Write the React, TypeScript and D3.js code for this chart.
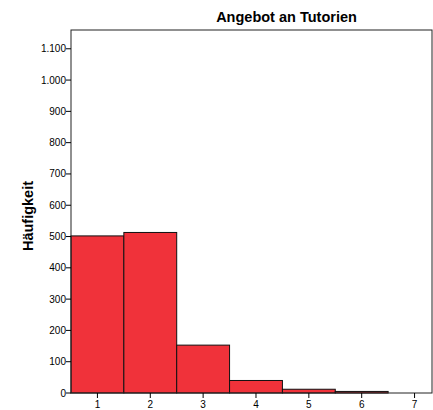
import React from 'react';
import * as d3 from 'd3';

const CATEGORIES = [1, 2, 3, 4, 5, 6, 7];
const COUNTS = [502, 513, 153, 40, 12, 5, 0];
const Y_TICKS = [0, 100, 200, 300, 400, 500, 600, 700, 800, 900, 1000, 1100];
const TITLE = 'Angebot an Tutorien';
const Y_LABEL = 'Häufigkeit';

const W = 433;
const H = 410;
const margin = { top: 30, right: 1, bottom: 17, left: 71 };

const fmt = (v: number) => v.toLocaleString('de-DE');

export default function App() {
  const x = d3.scaleLinear()
    .domain([0.5, 7.33])
    .range([margin.left, W - margin.right]);
  const y = d3.scaleLinear()
    .domain([0, 1160])
    .range([H - margin.bottom, margin.top]);

  const bottom = y(0);

  return (
    <svg width={W} height={H} style={{ position: 'absolute', left: 0, top: 0, fontFamily: '"Liberation Sans", Arial, sans-serif' }}>
      <rect x={0} y={0} width={W} height={H} fill="#fff" />
      <text x={286.5} y={22} textAnchor="middle" fontSize={14.5} fontWeight="bold" fill="#000">{TITLE}</text>

      {/* bars */}
      {CATEGORIES.map((c, i) => COUNTS[i] > 0 && (
        <rect key={c}
          x={x(c - 0.5)} y={y(COUNTS[i])}
          width={x(c + 0.5) - x(c - 0.5)} height={bottom - y(COUNTS[i])}
          fill="#f0323a" stroke="#111" strokeWidth={1} />
      ))}

      {/* frame */}
      <rect x={margin.left} y={margin.top} width={W - margin.right - margin.left} height={bottom - margin.top}
        fill="none" stroke="#222" strokeWidth={1} />

      {/* y axis */}
      {Y_TICKS.map(t => (
        <g key={t} transform={`translate(0,${y(t)})`}>
          <line x1={margin.left - 5} x2={margin.left} stroke="#000" />
          <text x={margin.left - 5} dy="0.35em" textAnchor="end" fontSize={10} fill="#000">{fmt(t)}</text>
        </g>
      ))}

      {/* x axis */}
      {CATEGORIES.map(c => (
        <g key={c} transform={`translate(${x(c)},0)`}>
          <line y1={bottom} y2={bottom + 5} stroke="#000" />
          <text y={bottom + 15} textAnchor="middle" fontSize={10} fill="#000">{c}</text>
        </g>
      ))}

      <text transform={`translate(33,216) rotate(-90)`} textAnchor="middle"
        fontSize={14.5} fontWeight="bold" fill="#000">{Y_LABEL}</text>
    </svg>
  );
}
